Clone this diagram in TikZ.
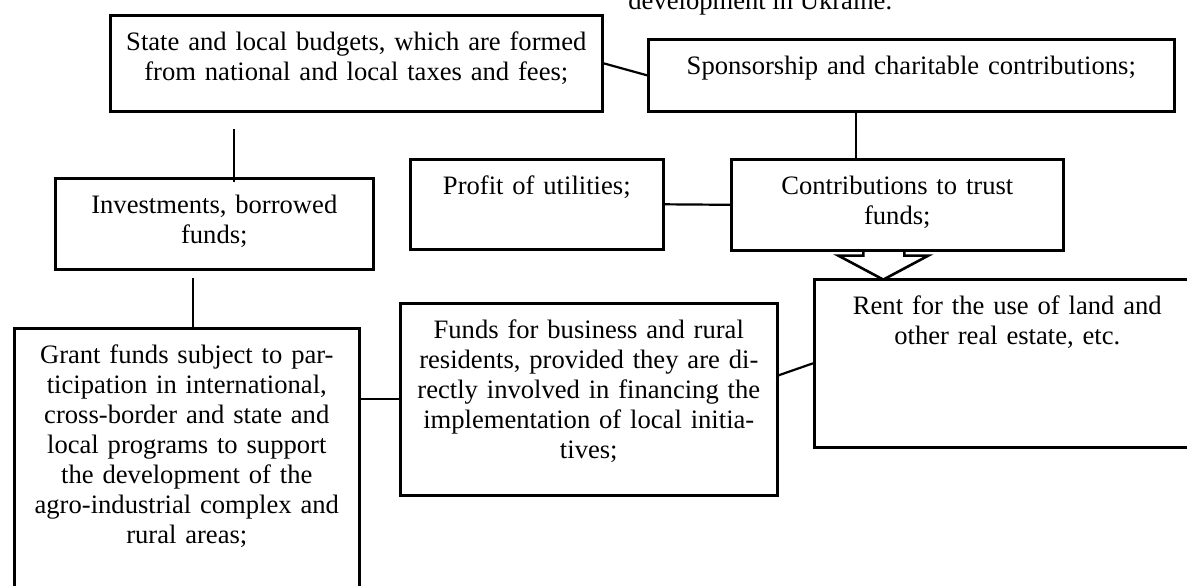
\documentclass[tikz,border=0pt]{standalone}
\usepackage{fontspec}
\setmainfont{Liberation Serif}

\begin{document}
\begin{tikzpicture}[x=0.5pt,y=-0.5pt,
    source/.style ={draw, line width=1.3pt, anchor=north west, align=center,
      inner sep=0pt, text height=17.5pt,
      font=\fontsize{13.3pt}{15pt}\selectfont},
    link/.style ={line width=1.1pt}]
   \useasboundingbox (0,0) rectangle (1187,585);
   \clip (0,0) rectangle (1187,585);

   \node[anchor=base west, inner sep=0pt, font=\fontsize{13.3pt}{15pt}\selectfont]
     (caption) at (628,9) {development in Ukraine.};

   \node[source, text width=246pt, text depth=30.5pt] (state) at (109,14)
     {State and local budgets, which are formed\\from national and local taxes and fees;};
   \node[source, text width=263pt, text depth=18.5pt] (spons) at (647,38)
     {Sponsorship and charitable contributions;};
   \node[source, text width=159pt, text depth=28pt] (invest) at (54,177)
     {Investments, borrowed\\funds;};
   \node[source, text width=126.5pt, text depth=27.5pt] (profit) at (409,158)
     {Profit of utilities;};
   \node[source, text width=166pt, text depth=28pt] (trust) at (730,158)
     {Contributions to trust\\funds;};
   \node[source, text width=193pt, text depth=66.5pt] (rent) at (813,278)
     {Rent for the use of land and\\other real estate, etc.};
   \node[source, text width=188.5pt, text depth=78.5pt] (business) at (399,302)
     {Funds for business and rural\\residents, provided they are di-\\rectly involved in financing the\\implementation of local initia-\\tives;};
   \node[source, text width=172.5pt, text depth=127.5pt] (grant) at (13,327)
     {Grant funds subject to par-\\ticipation in international,\\cross-border and state and\\local programs to support\\the development of the\\agro-industrial complex and\\rural areas;};

   \draw[link] (state.east) -- (spons.west);
   \draw[link] ([xshift=-20.5pt]trust.north) -- ([xshift=-20.5pt]trust.north |- spons.south);
   \draw[link] ([xshift=10pt,yshift=24pt]invest.north) -- ([xshift=10pt,yshift=-2.5pt]invest.north);
   \draw[link] ([xshift=3.25pt,yshift=24.5pt]grant.north) -- ([xshift=3.25pt]grant.north);
   \draw[link] (profit.east) -- (trust.west);
   \draw[link] (grant.east |- business.west) -- (business.west);
   \draw[link] ([yshift=12pt]business.east) -- (rent.west);

   % hollow arrow into the rent box
   \draw[line width=1.3pt, line join=miter] ([xshift=-17pt]trust.south) -- ++(0,4) -- ++(-25,0)
     -- ++(45,24) -- ++(45,-24) -- ++(-24,0) -- ++(0,-4);
\end{tikzpicture}
\end{document}
